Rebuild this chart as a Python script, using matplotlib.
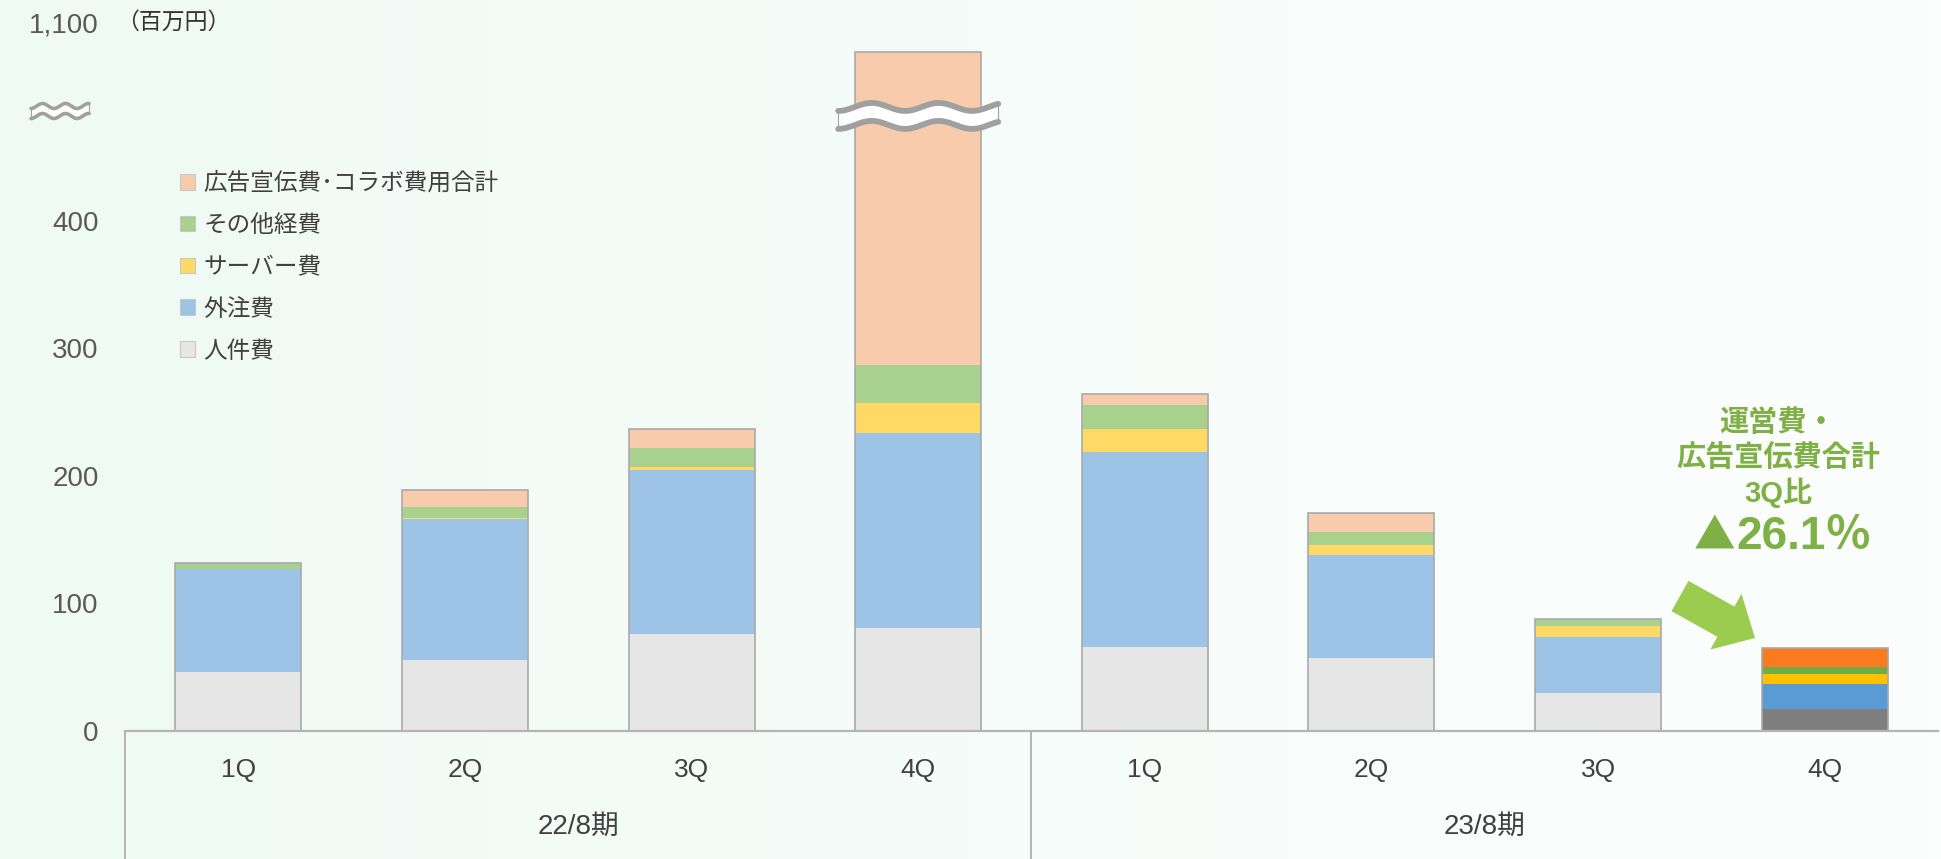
import numpy as np
import matplotlib.pyplot as plt
import matplotlib.transforms as mtransforms
from matplotlib.patches import Patch
from matplotlib.colors import LinearSegmentedColormap
from matplotlib.ticker import NullLocator

plt.rcParams['font.family'] = ['Liberation Sans', 'Noto Sans CJK JP']

# quarterly operating + ad costs (million yen)
quarters = ['1Q', '2Q', '3Q', '4Q', '1Q', '2Q', '3Q', '4Q']
periods = ['22/8期', '23/8期']
personnel = [46, 56, 76, 81, 66, 57, 30, 17]
outsourcing = [81, 110, 129, 153, 153, 81, 44, 20]
server = [0, 1, 2, 23, 18, 8, 8, 8]
other = [5, 9, 15, 30, 19, 10, 6, 5]
advertising = [0, 13, 15, 621, 8, 15, 0, 15]

names = ['人件費', '外注費', 'サーバー費', 'その他経費', '広告宣伝費･コラボ費用合計']
light = ['#e6e6e6', '#9dc3e6', '#ffd966', '#a9d18e', '#f8cbad']
strong = ['#7f7f7f', '#5b9bd5', '#ffc000', '#70ad47', '#f97a1f']

# y axis is squeezed above the break so the big 4Q bar fits
BREAK = 480
SQUEEZE = 0.1226


def fwd(v):
    v = np.asarray(v, dtype=float)
    return np.where(v <= BREAK, v, BREAK + (v - BREAK) * SQUEEZE)


def inv(f):
    f = np.asarray(f, dtype=float)
    return np.where(f <= BREAK, f, BREAK + (f - BREAK) / SQUEEZE)


W, H = 1941, 859
fig = plt.figure(figsize=(W / 100, H / 100), dpi=100)

# pale mint background fading to white
bg = fig.add_axes([0, 0, 1, 1], zorder=-2)
cmap = LinearSegmentedColormap.from_list('bg', ['#effaf4', '#f6fcf9', '#fcfefd'])
bg.imshow(np.linspace(0, 1, 256)[None, :], cmap=cmap, aspect='auto', extent=[0, 1, 0, 1])
bg.axis('off')

ax = fig.add_axes([125 / W, (H - 731) / H, (1938 - 125) / W, (731 - 22) / H])
ax.set_facecolor('none')
ax.set_yscale('function', functions=(fwd, inv))
ax.set_ylim(0, 1100)
ax.set_xlim(-0.5, 7.5)

x = np.arange(len(quarters))
bw = 0.556
bottom = np.zeros(len(quarters))
for vals, cl, cs in zip([personnel, outsourcing, server, other, advertising], light, strong):
    vals = np.array(vals, dtype=float)
    cols = [cl] * (len(quarters) - 1) + [cs]
    ax.bar(x, vals, bw, bottom=bottom, color=cols, linewidth=0, zorder=2)
    bottom += vals
ax.bar(x, bottom, bw, fill=False, edgecolor='#a9a9a9', linewidth=1.2, zorder=3)

for s in ax.spines.values():
    s.set_visible(False)
ax.axhline(0, color='#b4b4b4', lw=1.6, zorder=4, clip_on=False)

ax.set_xticks([])
ax.set_yticks([0, 100, 200, 300, 400, 1100])
ax.set_yticklabels(['0', '100', '200', '300', '400', '1,100'])
ax.yaxis.set_minor_locator(NullLocator())
ax.tick_params(axis='y', length=0, pad=19, labelsize=20, labelcolor='#595959')

# category box under the bars
tr = mtransforms.blended_transform_factory(ax.transData, ax.transAxes)
for xv in [-0.5, 3.5]:
    ax.plot([xv, xv], [0, -0.2], color='#b4b4b4', lw=1.4, transform=tr, clip_on=False)
for xi, q in zip(x, quarters):
    ax.text(xi, -0.055, q, transform=tr, ha='center', va='center', fontsize=19, color='#404040')
for xc, p in zip([1.5, 5.5], periods):
    ax.text(xc, -0.135, p, transform=tr, ha='center', va='center', fontsize=20, color='#404040')

# overlay in pixel coordinates (y downwards) for decorations
ov = fig.add_axes([0, 0, 1, 1], zorder=5)
ov.set_xlim(0, W)
ov.set_ylim(H, 0)
ov.axis('off')
ov.patch.set_alpha(0)


def wave_break(x0, x1, y_up, y_dn, period, amp, lw):
    xs = np.linspace(x0, x1, 300)
    wob = amp * np.sin(2 * np.pi * (xs - x0) / period + np.pi / 2)
    y1 = y_up + wob
    y2 = y_dn + wob
    ov.fill_between(xs, y1, y2, color='white', lw=0, zorder=6)
    ov.plot(xs, y1, color='#a0a0a0', lw=lw, solid_capstyle='round', zorder=7)
    ov.plot(xs, y2, color='#a0a0a0', lw=lw, solid_capstyle='round', zorder=7)
    for xe, k in [(x0, 0), (x1, -1)]:
        ov.plot([xe, xe], [y1[k], y2[k]], color='#a0a0a0', lw=0.8, zorder=7)


cx, cy = ax.transData.transform((3, BREAK))
cy = H - cy
wave_break(cx - 80, cx + 80, cy - 12, cy + 6, 67, 4, 4.2)
wave_break(31, 89, 106, 116, 23, 2.5, 2.6)

ov.text(116, 22, '（百万円）', ha='left', va='center', fontsize=16.5, color='#333333',
        family='Noto Sans CJK JP')

handles = [Patch(facecolor=c, edgecolor='#c8c8c8', linewidth=0.8) for c in light[::-1]]
fig.legend(handles, names[::-1], loc='upper left', bbox_to_anchor=(180 / W, 1 - 172 / H),
           frameon=False, handlelength=0.65, handleheight=0.65,
           handletextpad=0.35, labelspacing=0.8, borderpad=0, borderaxespad=0,
           labelcolor='#404040', prop={'family': 'Noto Sans CJK JP', 'size': 17})

green = '#7fb045'
ov.text(1778, 422, '運営費・', ha='center', va='center', fontsize=21, weight='bold',
        color=green, family='Noto Sans CJK JP')
ov.text(1778, 458, '広告宣伝費合計', ha='center', va='center', fontsize=21, weight='bold',
        color=green, family='Noto Sans CJK JP')
ov.text(1778, 493, '3Q比', ha='center', va='center', fontsize=21, weight='bold', color=green)
ov.text(1735, 537, '▲', ha='right', va='center', fontsize=30, weight='bold', color=green,
        family='Noto Sans CJK JP')
ov.text(1736, 537, '26.1％', ha='left', va='center', fontsize=33, weight='bold', color=green)

ov.annotate('', xy=(1755, 638), xytext=(1680, 596),
            arrowprops=dict(arrowstyle='simple,head_length=1.2,head_width=2.3,tail_width=1.25',
                            fc='#9ccc4f', ec='none', shrinkA=0, shrinkB=0, mutation_scale=20))

fig.savefig('out.png', dpi=100)
